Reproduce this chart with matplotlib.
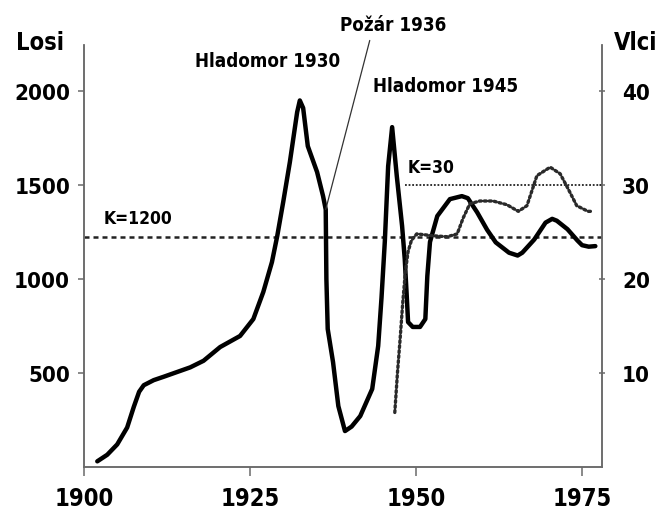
import matplotlib
matplotlib.use('Agg')
import matplotlib.pyplot as plt

# moose (left axis)
moose_years = [1902, 1903.5, 1905, 1906.5, 1907.5, 1908.3, 1909, 1910.5, 1912, 1914,
               1916, 1918, 1920.5, 1923.5, 1925.5, 1927, 1928.3, 1929.1, 1930, 1931,
               1932.1, 1932.5, 1933, 1933.7, 1935.1, 1936, 1936.4, 1936.5, 1936.7, 1937.5,
               1938.3, 1939.3, 1940.3, 1941.6, 1943.4, 1944.3, 1944.8, 1945.3, 1945.8, 1946.4,
               1947.1, 1947.9, 1948.3, 1948.6, 1948.8, 1949.5, 1950.6, 1951.4, 1951.7, 1952.1,
               1953.2, 1955.1, 1956.9, 1957.8, 1959.2, 1960.7, 1962, 1964, 1965.3, 1966,
               1967.8, 1969.5, 1970.5, 1971.2, 1972.8, 1974.3, 1975, 1976, 1977]
moose = [30, 65, 120, 210, 320, 400, 435, 462, 480, 505,
         530, 565, 638, 697, 787, 931, 1090, 1229, 1410, 1622,
         1888, 1950, 1910, 1707, 1569, 1441, 1370, 1000, 734, 558,
         324, 191, 215, 271, 415, 644, 900, 1200, 1600, 1808,
         1548, 1282, 1106, 910, 771, 745, 745, 787, 1016, 1197,
         1335, 1425, 1441, 1430, 1355, 1262, 1195, 1140, 1125, 1140,
         1210, 1300, 1320, 1310, 1265, 1205, 1180, 1172, 1175]

# wolves (right axis)
wolf_years = [1946.8, 1947.2, 1947.6, 1948.0, 1948.4, 1948.8, 1949.3, 1950.1, 1951.4,
              1952.6, 1954.7, 1956.2, 1957.1, 1958.1, 1959.6, 1961.6, 1963.7, 1965.4,
              1966.7, 1967.5, 1968.2, 1970.2, 1971.7, 1972.9, 1974.2, 1975.9, 1976.7]
wolves = [5.8, 10, 13.6, 17.5, 20.8, 22.9, 24.1, 24.8, 24.7,
          24.6, 24.5, 24.8, 26.5, 28.0, 28.3, 28.3, 27.9, 27.2,
          27.8, 29.5, 31, 31.9, 31.2, 29.6, 27.8, 27.2, 27.2]

k_moose = 1225   # drawn line (labelled K=1200)
k_wolves = 30
k_wolves_start = 1948.3

x_ticks = [1900, 1925, 1950, 1975]
moose_ticks = [500, 1000, 1500, 2000]
wolf_ticks = [10, 20, 30, 40]

font = dict(family='DejaVu Sans', stretch='condensed', weight='bold')
spine_col = '#6a6a6a'

fig = plt.figure(figsize=(6.64, 5.10), dpi=100)
ax = fig.add_axes([0.1265, 0.0824, 0.7801, 0.8274])
ax2 = ax.twinx()

ax.set_xlim(1900, 1978)
ax.set_ylim(0, 2245)
ax2.set_ylim(0, 2245 / 50)

ax.plot(moose_years, moose, color='black', lw=3.2, solid_joinstyle='round',
        solid_capstyle='round', zorder=3)
ax2.plot(wolf_years, wolves, color='#2a2a2a', lw=2.4, linestyle=(0, (0.6, 0.9)),
         dash_capstyle='round', zorder=3)

ax.axhline(k_moose, color='#222222', lw=1.8, linestyle=(0, (2, 1.6)), zorder=2)
ax2.plot([k_wolves_start, 1978], [k_wolves, k_wolves], color='#222222', lw=1.3,
         linestyle=(0, (1, 1)), zorder=2)

ax.text(1902.9, 1325, 'K=1200', fontsize=12.5, va='center', ha='left', **font)
ax2.text(1948.8, 31.9, 'K=30', fontsize=12.5, va='center', ha='left', **font)
ax.text(1927.7, 2160, 'Hladomor 1930', fontsize=13.5, ha='center', va='center', **font)
ax.text(1954.4, 2027, 'Hladomor 1945', fontsize=13.5, ha='center', va='center', **font)
ax.annotate('Požár 1936', xy=(1936.4, 1370), xytext=(1946.5, 2356),
            ha='center', va='center', fontsize=13.5, annotation_clip=False,
            arrowprops=dict(arrowstyle='-', color='#333333', lw=0.9,
                            relpos=(0.3, 0.0), shrinkA=3, shrinkB=0),
            **font)

fig.text(40 / 664, 1 - 43 / 510, 'Losi', fontsize=17, ha='center', va='center', **font)
fig.text(636 / 664, 1 - 43 / 510, 'Vlci', fontsize=17, ha='center', va='center', **font)

ax.set_xticks(x_ticks)
ax.set_yticks(moose_ticks)
ax2.set_yticks(wolf_ticks)
ax.set_xticklabels([str(t) for t in x_ticks], fontsize=17, **font)
ax.set_yticklabels([str(t) for t in moose_ticks], fontsize=16, **font)
ax2.set_yticklabels([str(t) for t in wolf_ticks], fontsize=16, **font)

ax.tick_params(axis='x', direction='out', length=6.5, width=1.1, color=spine_col, pad=7)
ax.tick_params(axis='y', direction='out', length=4, width=1.1, color=spine_col, pad=6)
ax2.tick_params(axis='y', direction='inout', length=5, width=1.1, color=spine_col, pad=12)

for a in (ax, ax2):
    a.spines['top'].set_visible(False)
    for s in ('left', 'right', 'bottom'):
        a.spines[s].set_color(spine_col)
        a.spines[s].set_linewidth(1.1)

fig.savefig('out.png', dpi=100)
